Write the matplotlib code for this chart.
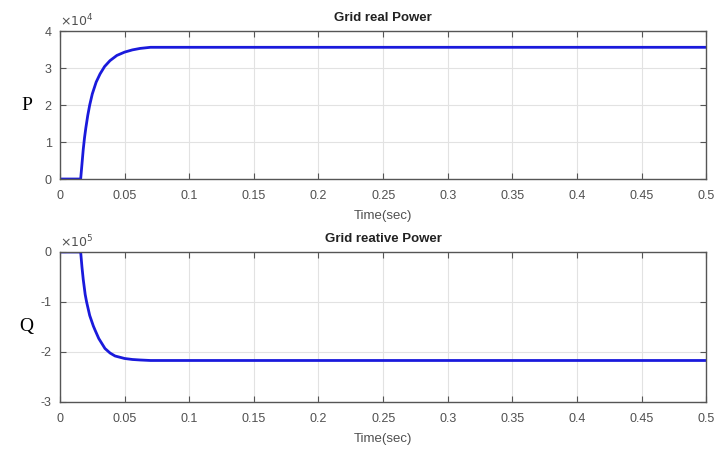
import matplotlib
matplotlib.use("Agg")
import matplotlib.pyplot as plt
from matplotlib.ticker import FuncFormatter

# Grid real power: time (sec) and value (x 1e4)
t_p = [0, 0.016, 0.017, 0.018, 0.019, 0.020, 0.0215, 0.023, 0.025, 0.028,
       0.031, 0.0345, 0.0387, 0.044, 0.050, 0.056, 0.062, 0.070, 0.5]
P = [0, 0, 0.40, 0.80, 1.12, 1.38, 1.72, 2.0, 2.3, 2.62,
     2.84, 3.04, 3.20, 3.34, 3.43, 3.49, 3.53, 3.56, 3.56]
# Grid reactive power: time (sec) and value (x 1e5)
t_q = [0, 0.016, 0.017, 0.018, 0.0195, 0.0206, 0.023, 0.0258, 0.0271, 0.030,
       0.0348, 0.0387, 0.0426, 0.050, 0.056, 0.062, 0.070, 0.5]
Q = [0, 0, -0.30, -0.55, -0.85, -1.0, -1.27, -1.48, -1.56, -1.73,
     -1.93, -2.02, -2.08, -2.13, -2.15, -2.16, -2.17, -2.17]

xticks = [0, 0.05, 0.1, 0.15, 0.2, 0.25, 0.3, 0.35, 0.4, 0.45, 0.5]
p_ticks = [0, 1, 2, 3, 4]
q_ticks = [-3, -2, -1, 0]

plt.rcParams['font.family'] = ['Liberation Sans', 'DejaVu Sans']
fig = plt.figure(figsize=(7.27, 4.49), dpi=100)
ax1 = fig.add_axes([0.0825, 0.6013, 0.889, 0.3296])
ax2 = fig.add_axes([0.0825, 0.1047, 0.889, 0.3341])

tick_color = '#505050'
fmt = FuncFormatter(lambda v, pos: ('%g' % v))

def style(ax, yt, title, exp, ylab):
    ax.set_xlim(0, 0.5)
    ax.set_xticks(xticks)
    ax.set_yticks(yt)
    ax.set_ylim(yt[0], yt[-1])
    ax.xaxis.set_major_formatter(fmt)
    ax.yaxis.set_major_formatter(fmt)
    ax.grid(True, color='#e2e2e2', linewidth=0.8)
    ax.set_axisbelow(True)
    ax.tick_params(direction='in', top=True, right=True, length=4,
                   labelsize=9, colors='#555555', labelcolor=tick_color)
    ax.tick_params(axis='x', pad=8)
    ax.tick_params(axis='y', pad=6)
    for s in ax.spines.values():
        s.set_color('#555555')
        s.set_linewidth(1.0)
    ax.set_title(title, fontsize=9.5, fontweight='bold', color='#222222', pad=7)
    ax.set_xlabel('Time(sec)', fontsize=9.5, color=tick_color, labelpad=6)
    ax.text(0.0, 1.012, r'$\times10^{%d}$' % exp, transform=ax.transAxes,
            fontsize=9, color=tick_color, ha='left', va='bottom')
    ax.text(-0.052, 0.5, ylab, transform=ax.transAxes, fontsize=14,
            family='Liberation Serif', color='black', ha='center', va='center')

ax1.plot(t_p, P, color='#1a1adc', linewidth=2.0)
ax2.plot(t_q, Q, color='#1a1adc', linewidth=2.0)
style(ax1, p_ticks, 'Grid real Power', 4, 'P')
style(ax2, q_ticks, 'Grid reative Power', 5, 'Q')

fig.savefig('out.png', dpi=100)
